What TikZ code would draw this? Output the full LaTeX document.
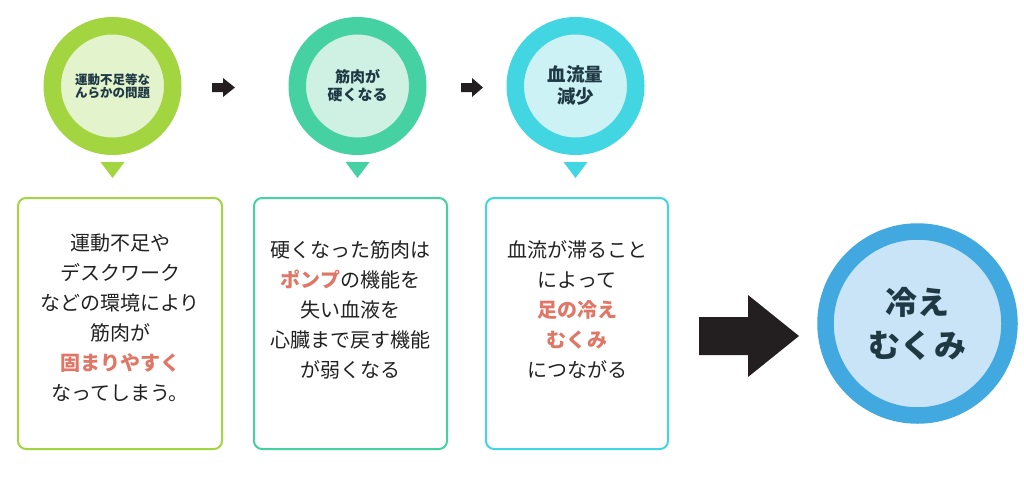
\documentclass[tikz,border=0pt]{standalone}
\usepackage{fontspec}
\setmainfont{Noto Sans CJK JP}
\usetikzlibrary{calc}
\definecolor{limeR}{HTML}{A3D540}
\definecolor{limeF}{HTML}{E3F3CC}
\definecolor{mintR}{HTML}{45D1A1}
\definecolor{mintF}{HTML}{CEF1E4}
\definecolor{cyanR}{HTML}{42D6E2}
\definecolor{cyanF}{HTML}{CCF2F5}
\definecolor{blueR}{HTML}{42A8E0}
\definecolor{blueF}{HTML}{C9E4F7}
\definecolor{ink}{HTML}{1E3844}
\definecolor{accent}{HTML}{E07766}
\definecolor{arrowc}{HTML}{231F20}
\newcommand\accentword[1]{{\bfseries\color{accent}#1}}
\tikzset{
	ring/.style={circle, draw=#1R, fill=#1F, line width=17.5pt, minimum size=120.5pt, inner sep=0pt, text=ink, font=\bfseries, align=center},
	card/.style={draw=#1R, line width=2pt, rounded corners=8pt, minimum height=251pt, inner sep=0pt},
	cardtext/.style={align=center, text=black!87, font=\fontsize{20}{30}\selectfont}
}
\begin{document}
\begin{tikzpicture}[x=1pt, y=-1pt, line join=round]
	\useasboundingbox (0,0) rectangle (1024,487);
	% three stages: circle, pointer, card
	\foreach \i/\cx/\col/\fs/\ls/\title/\bx/\bw/\ty/\body in {
		1/112.5/lime/12.5/13.5/{運動不足等な\\んらかの問題}/120/204/318/{運動不足や\\デスクワーク\\などの環境により\\筋肉が\\\accentword{固まりやすく}\\なってしまう。},
		2/357.5/mint/15/18/{筋肉が\\硬くなる}/350.5/193/310/{硬くなった筋肉は\\\accentword{ポンプ}の機能を\\失い血液を\\心臓まで戻す機能\\が弱くなる},
		3/575.5/cyan/18.5/22/{血流量\\減少}/577/182/310/{血流が滞ること\\によって\\\accentword{足の冷え}\\\accentword{むくみ}\\につながる}}{
		\node[ring=\col, font=\bfseries\fontsize{\fs}{\ls}\selectfont] (c\i) at (\cx,86) {\title};
		\fill[\col R] ($(c\i.south)+(-12,7)$) -- ($(c\i.south)+(12,7)$) -- ($(c\i.south)+(0,23)$) -- cycle;
		\node[card=\col, minimum width=\bw] (b\i) at (\bx,323.5) {};
		\node[cardtext] (t\i) at (\bx,\ty) {\body};
	}
	% result
	\node[ring=blue, line width=16.5pt, minimum size=184pt, font=\bfseries\fontsize{32}{43}\selectfont] (c4) at (917.5,323.5) {冷え\\むくみ};
	% block arrows
	\foreach \ax/\ay/\al/\as/\ah/\ahw in {212/87.5/23/4.5/11/9.5, 461/87.5/22/4.5/11/9.5, 699/336/100/19/49/41}
		\fill[arrowc] (\ax,\ay-\as) -- (\ax+\ah,\ay-\as) -- (\ax+\ah,\ay-\ahw) -- (\ax+\al,\ay) -- (\ax+\ah,\ay+\ahw) -- (\ax+\ah,\ay+\as) -- (\ax,\ay+\as) -- cycle;
\end{tikzpicture}
\end{document}
